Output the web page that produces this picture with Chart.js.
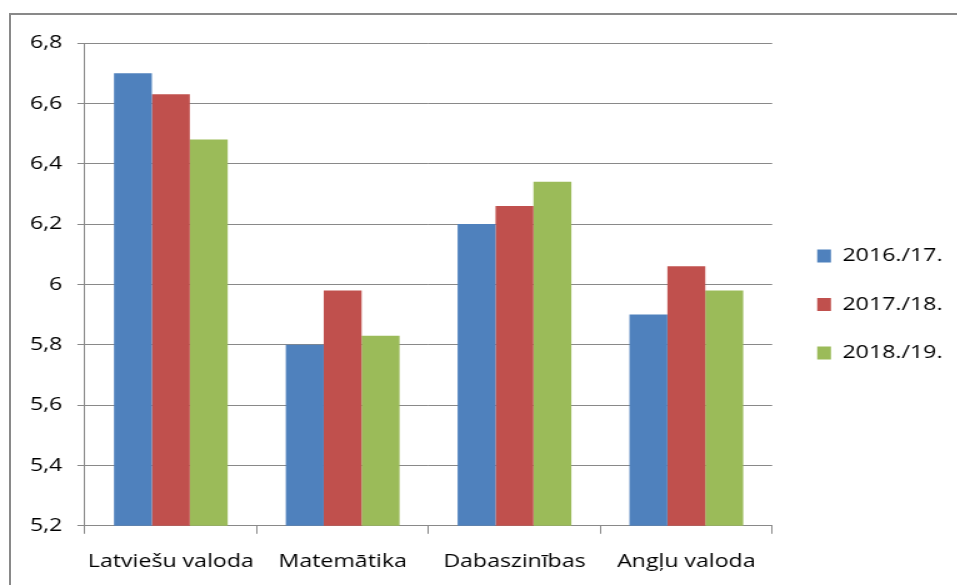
<!DOCTYPE html>
<html>
<head>
<meta charset="utf-8">
<script src="https://cdn.jsdelivr.net/npm/chart.js@4.4.1/dist/chart.umd.min.js"></script>
<style>
  html, body { margin: 0; padding: 0; background: #fff; }
  #wrap { position: relative; width: 957px; height: 585px; overflow: hidden; }
  #frame { position: absolute; left: 9px; top: 13px; width: 1000px; height: 600px; border: 2px solid #898989; box-sizing: border-box; }
  /* the reference is stretched horizontally, so the chart is drawn narrow and widened */
  canvas { position: absolute; left: 0; top: 0; transform: scaleX(1.25); transform-origin: 0 0; }
</style>
</head>
<body>
<div id="wrap">
  <div id="frame"></div>
  <canvas id="chart" width="766" height="585"></canvas>
</div>
<script>
const subjects = ['Latviešu valoda', 'Matemātika', 'Dabaszinības', 'Angļu valoda'];
const seriesLabels = ['2016./17.', '2017./18.', '2018./19.'];
const values2016 = [6.70, 5.80, 6.20, 5.90];
const values2017 = [6.63, 5.98, 6.26, 6.06];
const values2018 = [6.48, 5.83, 6.34, 5.98];
const colors = ['#4F81BD', '#C0504D', '#9BBB59'];
const yMin = 5.2, yMax = 6.8, yStep = 0.2;

function formatTick(value) {
    return String(Number(value.toFixed(1))).replace('.', ',');
}

const fontFamily = '"Open Sans", Lato, sans-serif';
const fontSize = 18.5;
const gridColor = '#898989';

// nudge the legend a little up and right, like in the original
const legendNudge = {
    id: 'legendNudge',
    afterLayout(chart) {
        const lg = chart.legend;
        if (!lg) return;
        lg.top -= 12; lg.bottom -= 12;
        lg.left += 6; lg.right += 6;
    }
};

const ctx = document.getElementById('chart').getContext('2d');
new Chart(ctx, {
    type: 'bar',
    data: {
        labels: subjects,
        datasets: [values2016, values2017, values2018].map((data, i) => ({
            label: seriesLabels[i],
            data,
            backgroundColor: colors[i],
            borderWidth: 0,
            barPercentage: 1,
            categoryPercentage: 0.662
        }))
    },
    options: {
        responsive: false,
        animation: false,
        layout: { padding: { left: 12, top: 43, right: 8, bottom: -5 } },
        scales: {
            x: {
                grid: { drawOnChartArea: false, drawTicks: true, tickLength: 8, color: gridColor, offset: true },
                border: { color: gridColor, width: 1 },
                ticks: {
                    color: '#000',
                    font: { family: fontFamily, size: fontSize },
                    padding: 17,
                    autoSkip: false,
                    maxRotation: 0,
                    minRotation: 0
                }
            },
            y: {
                min: yMin,
                max: yMax,
                grid: { color: gridColor, tickLength: 6 },
                border: { color: gridColor, width: 1 },
                ticks: {
                    stepSize: yStep,
                    color: '#000',
                    padding: 12,
                    font: { family: fontFamily, size: fontSize },
                    callback: value => formatTick(value)
                }
            }
        },
        plugins: {
            legend: {
                position: 'right',
                labels: {
                    boxWidth: 11,
                    boxHeight: 13,
                    padding: 30,
                    color: '#000',
                    font: { family: fontFamily, size: fontSize }
                }
            },
            tooltip: { enabled: false }
        }
    },
    plugins: [legendNudge]
});
</script>
</body>
</html>
